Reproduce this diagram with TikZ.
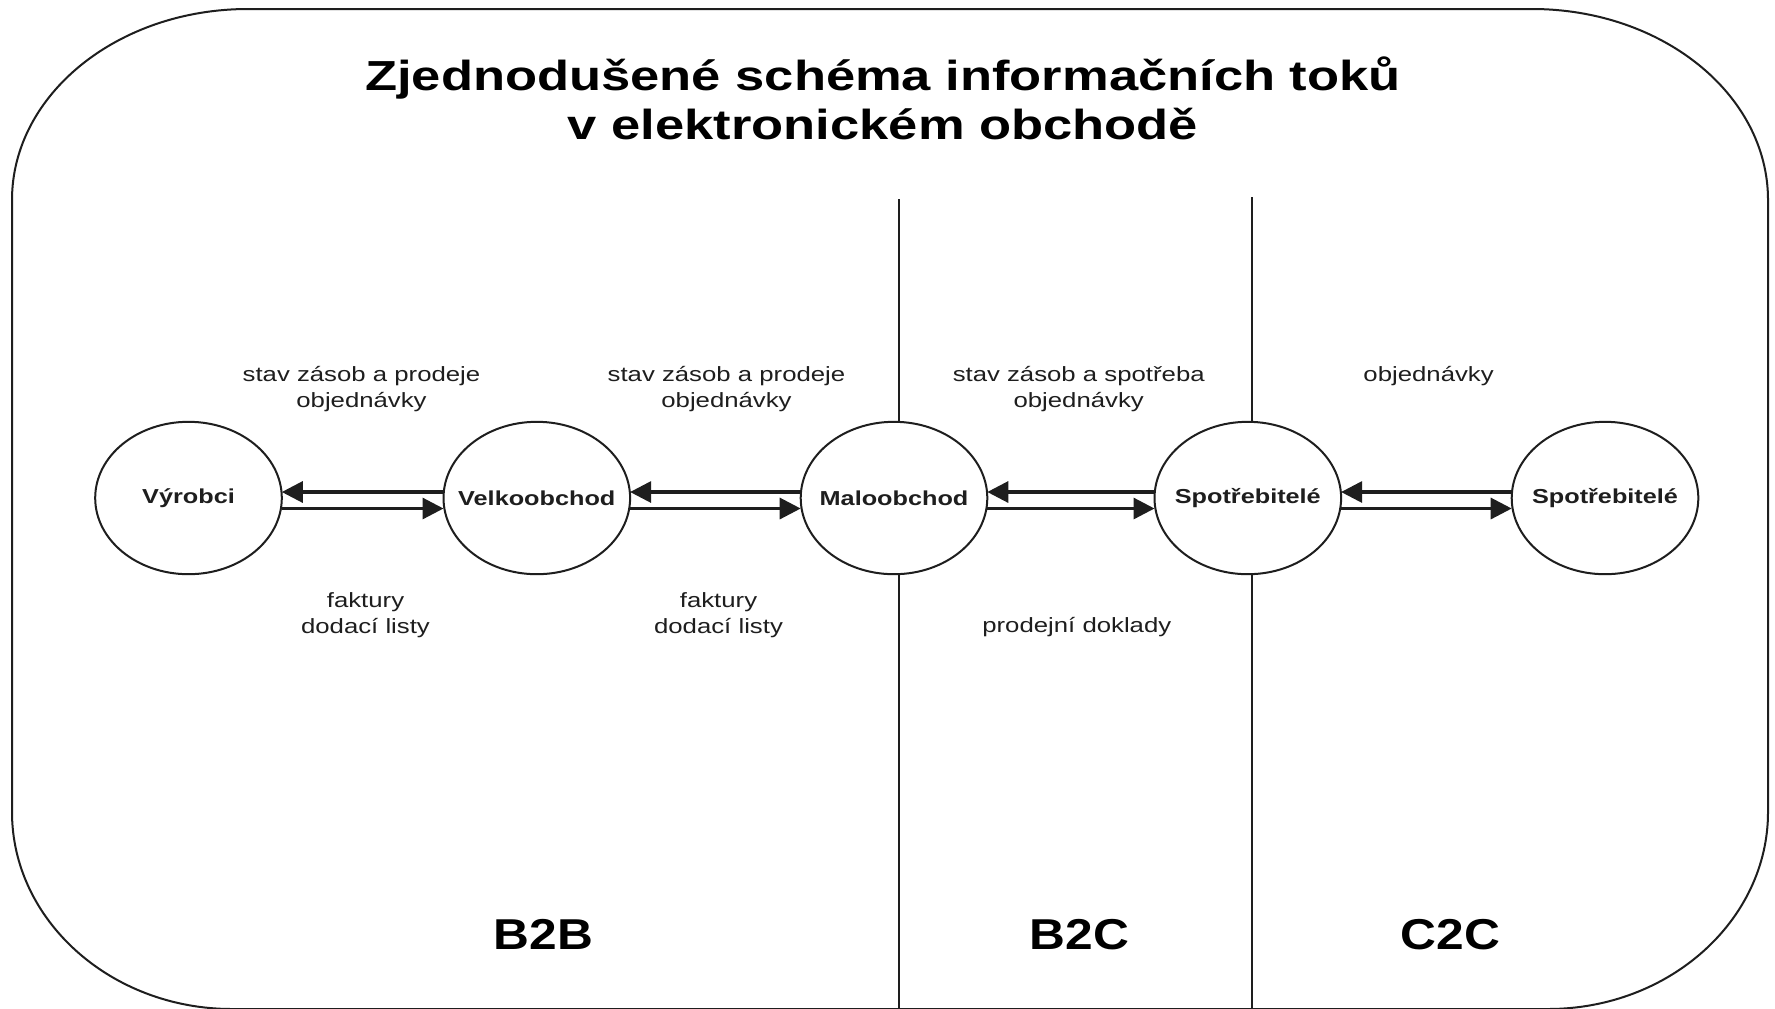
\documentclass[tikz,border=0pt]{standalone}
\usepackage{fontspec}
\setmainfont{Liberation Sans}[FakeStretch=1.25]
\newfontfamily\zonefont{Liberation Sans}[FakeStretch=1.15]
\usetikzlibrary{shapes.geometric,arrows.meta}
\definecolor{ink}{RGB}{30,30,30}
\begin{document}
\begin{tikzpicture}[x=0.5pt,y=-0.5pt,
  frame/.style={draw=ink, line width=1pt},
  divider/.style={draw=ink, line width=0.7pt},
  party/.style={ellipse, draw=ink, line width=1pt, fill=white,
    minimum width=93.3pt, minimum height=76.2pt, inner sep=0pt, outer sep=0pt,
    font=\fontsize{10.1}{12}\selectfont\bfseries, text=ink},
  flow/.style={draw=ink, line width=1.6pt, -{Triangle[length=10.5pt,width=10.5pt]}},
  lbl/.style={font=\fontsize{10.3}{12.75}\selectfont, text=ink, align=center, inner sep=0pt, anchor=base},
  heading/.style={font=\fontsize{21}{24.65}\selectfont\bfseries, text=black, align=center, inner sep=0pt, anchor=base},
  zone/.style={font=\zonefont\fontsize{21.6}{24}\selectfont\bfseries, text=black, inner sep=0pt, anchor=base}]
\useasboundingbox[fill=white] (0,0) rectangle (1775,1008);
% outer frame
\draw[frame] (248,9) -- (1532,9) .. controls (1662.3,9) and (1768,94.6) .. (1768,200)
  -- (1768,812) .. controls (1768,920.2) and (1669.4,1009) .. (1548,1009)
  -- (232,1009) .. controls (110.6,1009) and (12,920.2) .. (12,812)
  -- (12,200) .. controls (12,94.6) and (117.7,9) .. (248,9) -- cycle;
% dividers
\coordinate (d1t) at (899,199);
\coordinate (d1b) at (899,1012);
\coordinate (d2t) at (1252,197);
\coordinate (d2b) at (1252,1012);
\draw[divider] (d1t) -- (d1b);
\draw[divider] (d2t) -- (d2b);
% title (anchor base = baseline of the last line)
\node[heading] (title) at (883,139.3) {Zjednodušené schéma informačních toků\\v elektronickém obchodě};
% parties
\node[party] (vyr) at (188.5,498) {\makebox[0pt]{Výrobci}};
\node[party] (velko) at (536.8,498) {\makebox[0pt]{Velkoobchod}};
\node[party] (malo) at (894,498) {\makebox[0pt]{Maloobchod}};
\node[party] (spot1) at (1247.8,498) {\makebox[0pt]{Spotřebitelé}};
\node[party] (spot2) at (1605,498) {\makebox[0pt]{Spotřebitelé}};
% flows
\draw[flow] ([yshift=3pt]velko.west) -- ([yshift=3pt]vyr.east);
\draw[flow] ([yshift=-5.25pt]vyr.east) -- ([yshift=-5.25pt]velko.west);
\draw[flow] ([yshift=3pt]malo.west) -- ([yshift=3pt]velko.east);
\draw[flow] ([yshift=-5.25pt]velko.east) -- ([yshift=-5.25pt]malo.west);
\draw[flow] ([yshift=3pt]spot1.west) -- ([yshift=3pt]malo.east);
\draw[flow] ([yshift=-5.25pt]malo.east) -- ([yshift=-5.25pt]spot1.west);
\draw[flow] ([yshift=3pt]spot2.west) -- ([yshift=3pt]spot1.east);
\draw[flow] ([yshift=-5.25pt]spot1.east) -- ([yshift=-5.25pt]spot2.west);
% labels (anchor base = baseline of the last line)
\node[lbl] (l1) at (361.5,407.2) {stav zásob a prodeje\\objednávky};
\node[lbl] (l2) at (726.5,407.2) {stav zásob a prodeje\\objednávky};
\node[lbl] (l3) at (1078.7,407.2) {stav zásob a spotřeba\\objednávky};
\node[lbl] (l4) at (1428.6,381.7) {objednávky};
\node[lbl] (l5) at (365.5,633.3) {faktury\\dodací listy};
\node[lbl] (l6) at (718.5,633.3) {faktury\\dodací listy};
\node[lbl] (l7) at (1076.8,632.3) {prodejní doklady};
% zones
\node[zone] (b2b) at (543.6,949.3) {B2B};
\node[zone] (b2c) at (1079.5,949.3) {B2C};
\node[zone] (c2c) at (1450.3,949.3) {C2C};
\end{tikzpicture}
\end{document}
